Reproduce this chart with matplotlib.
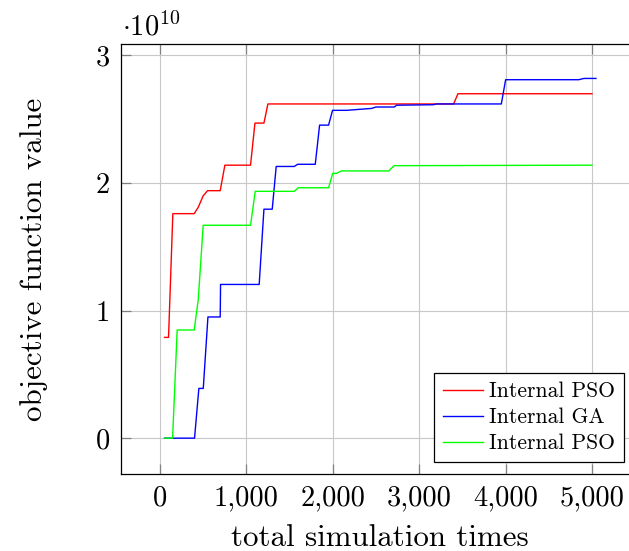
import matplotlib
matplotlib.use('Agg')
import matplotlib.pyplot as plt

plt.rcParams['font.family'] = 'cmr10'
plt.rcParams['mathtext.fontset'] = 'cm'
plt.rcParams['axes.formatter.use_mathtext'] = True

# datos (objective function value en unidades de 1e10)
pso_x = [54, 100, 150, 397, 444, 501, 552, 698, 752, 1049, 1100, 1204, 1250, 3399, 3449, 5000]
pso_y = [0.79, 0.79, 1.76, 1.76, 1.81, 1.90, 1.94, 1.94, 2.14, 2.14, 2.47, 2.47, 2.62, 2.62, 2.70, 2.70]

ga_x = [54, 401, 451, 502, 556, 698, 702, 1149, 1204, 1300, 1346, 1555, 1594, 1798, 1848, 1952,
        1998, 2160, 2450, 2500, 2712, 2739, 3164, 3202, 3951, 4001, 4846, 4907, 5046]
ga_y = [0.0, 0.0, 0.39, 0.39, 0.95, 0.95, 1.205, 1.205, 1.795, 1.795, 2.13, 2.13, 2.147, 2.147, 2.454, 2.454,
        2.57, 2.57, 2.585, 2.596, 2.596, 2.61, 2.614, 2.62, 2.62, 2.81, 2.81, 2.82, 2.82]

pso2_x = [54, 147, 200, 397, 444, 501, 1049, 1103, 1555, 1601, 1952, 2000, 2045, 2100, 2650, 2708, 5000]
pso2_y = [0.0, 0.0, 0.848, 0.848, 1.087, 1.669, 1.669, 1.935, 1.935, 1.963, 1.963, 2.076, 2.076, 2.095,
          2.095, 2.136, 2.14]

labels = ['Internal PSO', 'Internal GA', 'Internal PSO']
xticks = [0, 1000, 2000, 3000, 4000, 5000]
xticklabels = ['0', '1,000', '2,000', '3,000', '4,000', '5,000']
yticks = [0, 1, 2, 3]
yticklabels = ['0', '1', '2', '3']

fig = plt.figure(figsize=(6.29, 5.51), dpi=100)
ax = fig.add_axes([121/629, 77/551, 518.5/629, 430/551])

ax.plot(pso_x, pso_y, color='#ff0000', lw=1.0, label=labels[0])
ax.plot(ga_x, ga_y, color='#0000ff', lw=1.0, label=labels[1])
ax.plot(pso2_x, pso2_y, color='#00ff00', lw=1.0, label=labels[2])

ax.set_xlim(-450, 5550)
ax.set_ylim(-0.281, 3.09)
ax.set_xticks(xticks)
ax.set_xticklabels(xticklabels)
ax.set_yticks(yticks)
ax.set_yticklabels(yticklabels)
ax.grid(True, color='#c8c8c8', lw=0.8)
ax.set_axisbelow(True)
ax.tick_params(direction='in', length=7, width=0.9, color='#808080', labelsize=20.5,
               top=True, right=True, pad=8)
for s in ax.spines.values():
    s.set_linewidth(0.9)
ax.spines['right'].set_visible(False)  # queda fuera de la imagen

ax.set_xlabel('total simulation times', fontsize=22.3, labelpad=9)
ax.set_ylabel('objective function value', fontsize=22.3, labelpad=34)

fig.text(122/629, 1 - 36/551, r'$\cdot 10^{10}$', fontsize=20.5, ha='left', va='baseline')

leg = ax.legend(loc='lower right', bbox_to_anchor=(0.970, 0.0286), borderaxespad=0,
                fontsize=15.5, fancybox=False, framealpha=1, edgecolor='black',
                handlelength=1.85, handletextpad=0.3, borderpad=0.4, labelspacing=0.3)
leg.get_frame().set_linewidth(0.9)

plt.savefig('out.png', dpi=100)
